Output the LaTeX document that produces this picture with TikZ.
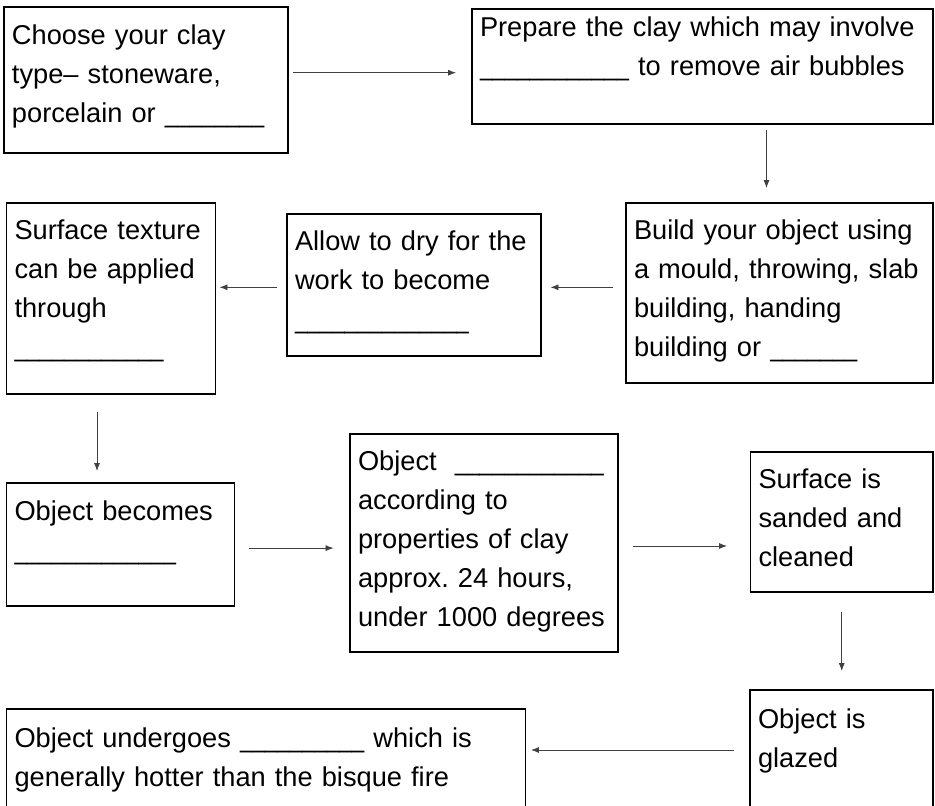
\documentclass[tikz,border=0pt]{standalone}
\usepackage{graphicx}
\usepackage{fontspec}
\setmainfont{Liberation Sans}
\usetikzlibrary{arrows.meta}
\newcommand{\fillin}[1]{\scalebox{0.82}[1]{\foreach \k in {1,...,#1}{\_}}}
\frenchspacing
\begin{document}
\begin{tikzpicture}[scale=1,inner sep=0pt,outer sep=0pt,line width=0.6pt,
>={Latex[length=4.5pt,width=3.4pt]},
stage/.style={draw,rectangle,anchor=north west,align=left,inner xsep=0.16cm,inner ysep=0pt,
  font=\fontsize{15.5pt}{22.2pt}\selectfont},
flow/.style={->,line width=0.45pt,black!75}]

\useasboundingbox (0,0) rectangle (18.7,-16.1);
\clip (0,0) rectangle (18.7,-16.1);

\draw (0.08,-0.14) node[stage,text width=5.36cm,text height=0.74cm,text depth=2.18cm] (choose) {Choose your clay\\type– stoneware,\\porcelain or \fillin{8}};
\draw (9.44,-0.18) node[stage,text width=8.90cm,text height=0.54cm,text depth=1.76cm] (prepare) {Prepare the clay which may involve\\\fillin{12} to remove air bubbles};
\draw (12.52,-4.06) node[stage,text width=5.82cm,text height=0.72cm,text depth=2.88cm] (build) {Build your object using\\a mould, throwing, slab\\building, handing\\building or \fillin{7}};
\draw (5.74,-4.28) node[stage,text width=4.76cm,text height=0.72cm,text depth=2.12cm] (dry) {Allow to dry for the\\work to become\\\fillin{14}};
\draw (0.13,-4.06) node[stage,text width=3.86cm,text height=0.72cm,text depth=3.10cm] (texture) {Surface texture\\can be applied\\through\\\fillin{12}};
\draw (0.13,-9.66) node[stage,text width=4.24cm,text height=0.74cm,text depth=1.72cm] (becomes) {Object becomes\\\fillin{13}};
\draw (7.00,-8.68) node[stage,text width=5.04cm,text height=0.72cm,text depth=3.64cm] (bisque) {Object\ \ \fillin{12}\\according to\\properties of clay\\approx. 24 hours,\\under 1000 degrees};
\draw (15.01,-9.04) node[stage,text width=3.33cm,text height=0.72cm,text depth=2.08cm] (sanded) {Surface is\\sanded and\\cleaned};
\draw (15.00,-13.80) node[stage,text width=3.34cm,text height=0.76cm,text depth=2.04cm] (glazed) {Object is\\glazed};
\draw (0.13,-14.18) node[stage,text width=10.06cm,text height=0.76cm,text depth=1.66cm] (glost) {Object undergoes \fillin{10} which is\\generally hotter than the bisque fire};

\coordinate (a1) at ([yshift=0.146cm]choose.east);
\draw[flow,shorten <=0.1cm,shorten >=0.32cm] (a1) -- (a1 -| prepare.west);
\coordinate (a2) at ([xshift=1.28cm]prepare.south);
\draw[flow,shorten <=0.12cm,shorten >=0.3cm] (a2) -- (a2 |- build.north);
\coordinate (a3) at ([yshift=0.114cm]build.west);
\draw[flow,shorten <=0.26cm,shorten >=0.19cm] (a3) -- (a3 -| dry.east);
\coordinate (a4) at ([yshift=-0.046cm]dry.west);
\draw[flow,shorten <=0.21cm,shorten >=0.08cm] (a4) -- (a4 -| texture.east);
\coordinate (a5) at ([xshift=-0.28cm]texture.south);
\draw[flow,shorten <=0.36cm,shorten >=0.24cm] (a5) -- (a5 |- becomes.north);
\coordinate (a6) at ([yshift=-0.072cm]becomes.east);
\draw[flow,shorten <=0.29cm,shorten >=0.33cm] (a6) -- (a6 -| bisque.west);
\coordinate (a7) at ([yshift=-0.06cm]bisque.east);
\draw[flow,shorten <=0.29cm,shorten >=0.47cm] (a7) -- (a7 -| sanded.west);
\coordinate (a8) at (sanded.south);
\draw[flow,shorten <=0.4cm,shorten >=0.38cm] (a8) -- (a8 |- glazed.north);
\coordinate (a9) at ([yshift=-1.2cm]glazed.north west);
\draw[flow,shorten <=0.33cm,shorten >=0.11cm] (a9) -- (a9 -| glost.east);
\end{tikzpicture}
\end{document}
